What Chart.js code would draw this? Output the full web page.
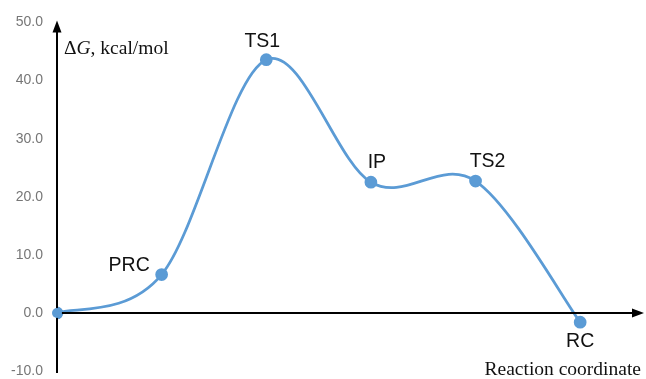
<!DOCTYPE html>
<html><head><meta charset="utf-8">
<script src="https://cdn.jsdelivr.net/npm/chart.js@4/dist/chart.umd.min.js"></script>
<style>html,body{margin:0;padding:0;background:#fff;overflow:hidden}#wrap{width:646px;height:379px;position:relative}canvas{display:block}</style>
</head><body><div id="wrap"><canvas id="c"></canvas></div>
<script>
const stages = ['', 'PRC', 'TS1', 'IP', 'TS2', 'RC'];
const positions = [0, 1, 2, 3, 4, 5];
const energies = [0.0, 6.6, 43.6, 22.5, 22.7, -1.6];
const yTicks = [50, 40, 30, 20, 10, 0, -10];
const labelOffsets = [[0,0],[-32.5,-9],[-4,-18.5],[6,-20],[12,-19],[0,19.5]];

// uniform Catmull-Rom style smoothing (like spreadsheet "smoothed line")
const smoothPlugin = {
  id: 'smooth',
  beforeDatasetDraw(chart, args) {
    const line = args.meta.dataset;
    line.updateControlPoints(chart.chartArea);
    const pts = args.meta.data;
    const n = pts.length;
    for (let i = 0; i < n; i++) {
      const prev = pts[Math.max(i - 1, 0)], next = pts[Math.min(i + 1, n - 1)];
      const tx = (next.x - prev.x) / 6, ty = (next.y - prev.y) / 6;
      pts[i].cp1x = pts[i].x - tx; pts[i].cp1y = pts[i].y - ty;
      pts[i].cp2x = pts[i].x + tx; pts[i].cp2y = pts[i].y + ty;
    }
  }
};

const axesPlugin = {
  id: 'axesArrows',
  afterDatasetsDraw(chart) {
    const {ctx, scales:{x, y}} = chart;
    const x0 = x.getPixelForValue(0), y0 = y.getPixelForValue(0);
    const top = y.getPixelForValue(50), bottom = y.getPixelForValue(-10);
    const right = x.getPixelForValue(x.max);
    ctx.save();
    ctx.strokeStyle = '#000'; ctx.fillStyle = '#000'; ctx.lineWidth = 2;
    ctx.beginPath(); ctx.moveTo(x0, bottom + 2); ctx.lineTo(x0, top + 8); ctx.stroke();
    ctx.beginPath(); ctx.moveTo(x0, top - 2); ctx.lineTo(x0 - 4.5, top + 10); ctx.lineTo(x0 + 4.5, top + 10); ctx.closePath(); ctx.fill();
    ctx.beginPath(); ctx.moveTo(x0, y0); ctx.lineTo(right - 8, y0); ctx.stroke();
    ctx.beginPath(); ctx.moveTo(right, y0); ctx.lineTo(right - 12, y0 - 4.5); ctx.lineTo(right - 12, y0 + 4.5); ctx.closePath(); ctx.fill();
    const meta = chart.getDatasetMeta(0);
    ctx.fillStyle = '#5B9BD5';
    meta.data.forEach(p => { ctx.beginPath(); ctx.arc(p.x, p.y, 5, 0, Math.PI*2); ctx.fill(); });
    ctx.fillStyle = '#111';
    ctx.font = '19.5px "Liberation Sans", Arial, sans-serif';
    ctx.textAlign = 'center'; ctx.textBaseline = 'middle';
    meta.data.forEach((p, i) => {
      if (!stages[i]) return;
      ctx.fillText(stages[i], p.x + labelOffsets[i][0], p.y + labelOffsets[i][1]);
    });
    ctx.textAlign = 'left';
    const serif = '"Liberation Serif", "Times New Roman", serif';
    ctx.font = '19.5px ' + serif;
    let tx = x0 + 7, ty = top + 26;
    ctx.fillText('\u0394', tx, ty); tx += ctx.measureText('\u0394').width;
    ctx.font = 'italic 19.5px ' + serif;
    ctx.fillText('G', tx, ty); tx += ctx.measureText('G').width;
    ctx.font = '19.5px ' + serif;
    ctx.fillText(', kcal/mol', tx, ty);
    ctx.textAlign = 'right';
    ctx.fillText('Reaction coordinate', right - 3, bottom - 1);
    ctx.restore();
  }
};

new Chart(document.getElementById('c'), {
  type: 'line',
  data: {
    datasets: [{
      data: positions.map((p, i) => ({x: p, y: energies[i]})),
      borderColor: '#5B9BD5',
      backgroundColor: '#5B9BD5',
      borderWidth: 2.75,
      pointRadius: 5,
      tension: 0.4,
      capBezierPoints: false,
      fill: false
    }]
  },
  options: {
    responsive: true,
    maintainAspectRatio: false,
    animation: false,
    layout: {autoPadding: false, padding: {top: 22.5, bottom: 8, left: 0, right: 2}},
    plugins: {legend: {display: false}, tooltip: {enabled: false}},
    scales: {
      x: {type: 'linear', min: 0, max: 5.61, display: false},
      y: {
        min: -10, max: 50,
        afterFit(s) { s.width = 57; s.paddingTop = 0; s.paddingBottom = 0; },
        afterBuildTicks(s) { s.ticks = yTicks.map(v => ({value: v})); },
        grid: {display: false, drawTicks: false},
        border: {display: false},
        ticks: {
          color: '#767676', padding: 14,
          font: {size: 14, family: '"Liberation Sans", Arial, sans-serif'},
          callback: v => v.toFixed(1)
        }
      }
    }
  },
  plugins: [smoothPlugin, axesPlugin]
});
</script></body></html>
